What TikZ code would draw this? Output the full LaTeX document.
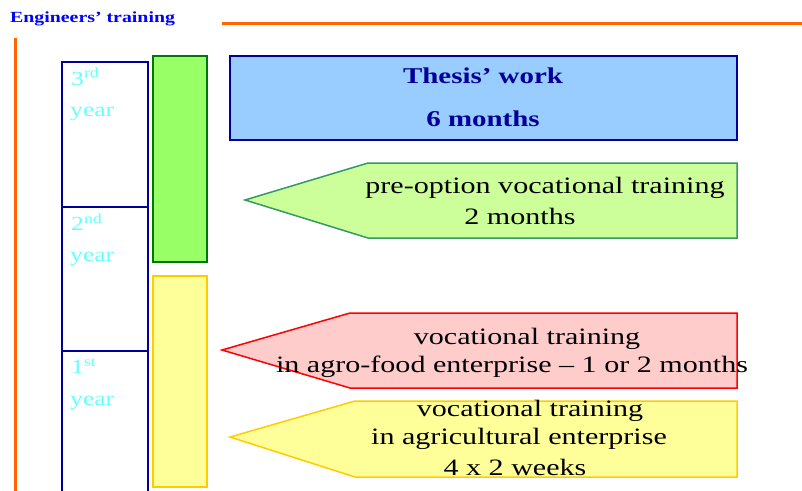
\documentclass[tikz,border=0pt]{standalone}
\usepackage{fontspec}
\setmainfont[FakeStretch=1.28]{Liberation Serif}
\definecolor{navy}{HTML}{000099}
\definecolor{orng}{HTML}{FF6600}
\definecolor{cyanT}{HTML}{66FFFF}
\definecolor{ltgreen}{HTML}{99FF66}
\definecolor{dkgreen}{HTML}{007700}
\definecolor{ltyellow}{HTML}{FFFF99}
\definecolor{gold}{HTML}{FFCC00}
\definecolor{ltblue}{HTML}{99CCFF}
\definecolor{palegreen}{HTML}{CCFF99}
\definecolor{midgreen}{HTML}{339966}
\definecolor{pink}{HTML}{FFCCCC}
\definecolor{titleblue}{HTML}{0000FF}
\begin{document}
\begin{tikzpicture}[x=1pt,y=-1pt,
  yeartxt/.style={text=cyanT,font=\fontsize{20}{22}\selectfont,anchor=west,inner sep=0},
  bodytxt/.style={font=\fontsize{23.5}{26}\selectfont,inner sep=0},
  thesistxt/.style={font=\bfseries\fontsize{22.6}{25}\selectfont,text=navy,inner sep=0},
  navyline/.style={navy,line width=2.8pt}]
\useasboundingbox (0,0) rectangle (802,490);
% title and orange lines
\node[anchor=west,inner sep=0,text=titleblue,font=\bfseries\fontsize{15.5}{17}\selectfont] (title) at (10,19) {Engineers’ training};
\draw[orng,line width=3pt] (222,23) -- (802,23);
\draw[orng,line width=3pt] (15,38) -- (15,492);
% year column
\draw[navyline] (62,495) -- (62,62) -- (148,62) -- (148,495);
\draw[navyline] (62,207) -- (148,207);
\draw[navyline] (62,351) -- (148,351);
\node[yeartxt] (y3a) at (71,77) {3\textsuperscript{rd}};
\node[yeartxt] (y3b) at (70,114) {year};
\node[yeartxt] (y2a) at (71,222) {2\textsuperscript{nd}};
\node[yeartxt] (y2b) at (70,259) {year};
\node[yeartxt] (y1a) at (71,366) {1\textsuperscript{st}};
\node[yeartxt] (y1b) at (70,403) {year};
% vertical bars
\draw[fill=ltgreen,draw=dkgreen,line width=2.8pt] (153,56) rectangle (207,262);
\draw[fill=ltyellow,draw=gold,line width=2.8pt] (153,276) rectangle (207,487);
% thesis box
\draw[fill=ltblue,draw=navy,line width=2.2pt] (230,56) rectangle (737,140);
\node[thesistxt] (th1) at (483,76) {Thesis’ work};
\node[thesistxt] (th2) at (483,119) {6 months};
% pentagons
\draw[fill=palegreen,draw=midgreen,line width=1.5pt] (245,200) -- (368,163) -- (737,163) -- (737,238) -- (368,238) -- cycle;
\node[bodytxt] (g1) at (545,188) {pre-option vocational training};
\node[bodytxt] (g2) at (520,216) {2 months};
\draw[fill=pink,draw=red,line width=1.5pt] (222,350) -- (350,313) -- (737,313) -- (737,388) -- (350,388) -- cycle;
\node[bodytxt] (r1) at (527,339) {vocational training};
\node[bodytxt] (r2) at (512,367) {in agro-food enterprise – 1 or 2 months};
\draw[fill=ltyellow,draw=gold,line width=1.5pt] (230,437) -- (355,401) -- (737,401) -- (737,477) -- (355,477) -- cycle;
\node[bodytxt] (w1) at (530,411) {vocational training};
\node[bodytxt] (w2) at (519,439) {in agricultural enterprise};
\node[bodytxt] (w3) at (515,467) {4 x 2 weeks};
\end{tikzpicture}
\end{document}
